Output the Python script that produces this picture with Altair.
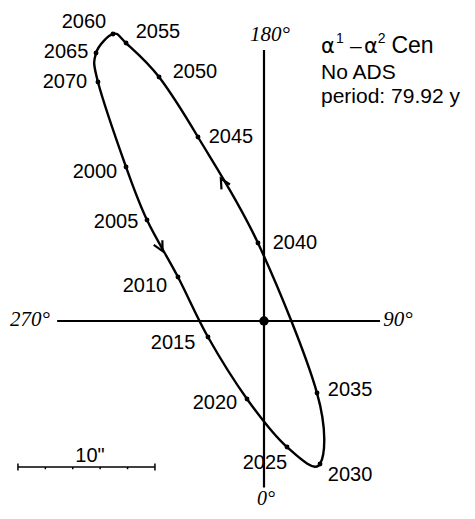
import altair as alt
import pandas as pd

# ---- data (arcseconds, origin = primary star, x right, y up) ----
years = [2000, 2005, 2010, 2015, 2020, 2025, 2030, 2035, 2040, 2045, 2050, 2055, 2060, 2065, 2070]
orbit_x = [-10.07, -8.54, -6.28, -4.09, -1.24, 1.68, 4.09, 3.87, -0.44, -4.82, -7.66, -10.07, -11.02, -12.26, -12.12]
orbit_y = [11.24, 7.37, 3.21, -1.17, -5.69, -9.20, -10.44, -5.26, 5.69, 13.43, 17.81, 20.29, 20.95, 19.56, 17.45]
label_x = [-12.34, -10.80, -8.69, -6.64, -3.58, 0.07, 6.28, 6.28, 2.26, -2.41, -5.04, -7.74, -13.14, -14.45, -14.53]
label_y = [10.88, 7.23, 2.55, -1.61, -5.99, -10.36, -11.24, -5.04, 5.69, 13.43, 18.18, 21.09, 21.82, 19.64, 17.45]

angle_text = ["180°", "270°", "90°"]
angle_x = [0.44, -17.08, 9.78]
angle_y = [20.88, 0.07, 0.10]
zero_text = "0°"
zero_x = 0.15
zero_y = -13.43   # baseline

arrow_x = [-3.15, -7.40]
arrow_y = [10.40, 5.10]
arrow_dir = [330, 152]

# title: "α¹ – α² Cen" split into base pieces and superscripts
title_alpha_x = [4.16, 7.30]
title_dash_x = 6.28
title_cen_x = 9.30
title_sup = ["1", "2"]
title_sup_x = [5.25, 8.30]
title_lines = ["No ADS", "period: 79.92 y"]
title_line_y = [17.66, 15.91]
title_x = 4.16
title_y1 = 19.56
title_sup_y = 20.29

scale_len = 10          # arcsec
scale_x0 = -17.96
scale_y0 = -10.66
scale_label = '10"'

# ---- layout constants ----
PX = 13.7               # pixels per arcsec
W, H = 459, 503
CX, CY = 256, 313       # origin in plot pixels
xdom = [-CX / PX, (W - CX) / PX]
ydom = [-(H - CY) / PX, CY / PX]
xs = alt.Scale(domain=xdom, nice=False, zero=False)
ys = alt.Scale(domain=ydom, nice=False, zero=False)

pts = pd.DataFrame({"year": years, "x": orbit_x, "y": orbit_y,
                    "lx": label_x, "ly": label_y, "lab": [str(v) for v in years]})

X = lambda f: alt.X(f, type="quantitative", scale=xs, axis=None)
Y = lambda f: alt.Y(f, type="quantitative", scale=ys, axis=None)

def txt(df, **kw):
    base = dict(font="Liberation Sans", fontSize=21, color="black", align="left", baseline="alphabetic")
    base.update(kw)
    return alt.Chart(df).mark_text(**base).encode(x=X("x"), y=Y("y"), text="t:N")

orbit = alt.Chart(pts).mark_line(interpolate="cardinal-closed", color="black", strokeWidth=2.4).encode(
    x=X("x"), y=Y("y"), order=alt.Order("year:Q"))
dots = alt.Chart(pts).mark_point(filled=True, color="black", size=24, opacity=1).encode(x=X("x"), y=Y("y"))
labels = alt.Chart(pts).mark_text(font="Liberation Sans", fontSize=20, color="black",
                                  align="center", baseline="middle").encode(x=X("lx"), y=Y("ly"), text="lab:N")

axes_df = pd.DataFrame({"x": [0, -15.1], "x2": [0, 8.47], "y": [19.78, 0], "y2": [-12.15, 0]})
axes = alt.Chart(axes_df).mark_rule(color="black", strokeWidth=2.2).encode(
    x=X("x"), x2="x2", y=Y("y"), y2="y2")
center = alt.Chart(pd.DataFrame({"x": [0], "y": [0]})).mark_point(
    filled=True, color="black", size=90, opacity=1).encode(x=X("x"), y=Y("y"))

angles = txt(pd.DataFrame({"t": angle_text, "x": angle_x, "y": angle_y}),
             font="Liberation Serif", fontStyle="italic", align="center", baseline="middle")
zero = txt(pd.DataFrame({"t": [zero_text], "x": [zero_x], "y": [zero_y]}),
           font="Liberation Serif", fontStyle="italic", fontSize=20, align="center")

arr_df = pd.DataFrame({"x": arrow_x, "y": arrow_y, "a": arrow_dir})
arrows = alt.Chart(arr_df).mark_point(shape="M -0.5 1 L 0 0 L 0.5 1", filled=False, color="black",
                                      strokeWidth=2.2, size=380, opacity=1).encode(
    x=X("x"), y=Y("y"), angle=alt.Angle("a:Q", scale=None))

t_alpha = txt(pd.DataFrame({"t": ["α", "α"], "x": title_alpha_x, "y": [title_y1] * 2}), font="DejaVu Sans")
t_dash = txt(pd.DataFrame({"t": ["–"], "x": [title_dash_x], "y": [title_y1]}))
t_cen = txt(pd.DataFrame({"t": ["Cen"], "x": [title_cen_x], "y": [title_y1]}), fontSize=23)
t_sup = txt(pd.DataFrame({"t": title_sup, "x": title_sup_x, "y": [title_sup_y] * 2}), fontSize=14)
t_lines = txt(pd.DataFrame({"t": title_lines, "x": [title_x] * 2, "y": title_line_y}))

sb_df = pd.DataFrame({"x": [scale_x0], "x2": [scale_x0 + scale_len], "y": [scale_y0]})
sbar = alt.Chart(sb_df).mark_rule(color="black", strokeWidth=1.5).encode(x=X("x"), x2="x2", y=Y("y"))
ends = pd.DataFrame({"x": [scale_x0, scale_x0 + scale_len],
                     "y": [scale_y0 + 0.25] * 2, "y2": [scale_y0 - 0.25] * 2})
sends = alt.Chart(ends).mark_rule(color="black", strokeWidth=1.5).encode(x=X("x"), y=Y("y"), y2="y2")
minor = pd.DataFrame({"x": [scale_x0 + 2 * k for k in range(1, 5)],
                      "y": [scale_y0] * 4, "y2": [scale_y0 - 0.16] * 4})
sminor = alt.Chart(minor).mark_rule(color="black", strokeWidth=1.5).encode(x=X("x"), y=Y("y"), y2="y2")
slabel = txt(pd.DataFrame({"t": [scale_label], "x": [-12.70], "y": [scale_y0 + 0.8]}),
             fontSize=20, align="center", baseline="middle")

chart = alt.layer(axes, orbit, dots, center, arrows, labels, angles, zero, t_alpha, t_dash, t_cen,
                  t_sup, t_lines, sbar, sends, sminor, slabel).properties(
    width=W, height=H, autosize=alt.AutoSizeParams(type="none"), padding=0,
    background="white").configure_view(stroke=None)

chart.save("out.html", embed_options={"renderer": "svg", "actions": False})
